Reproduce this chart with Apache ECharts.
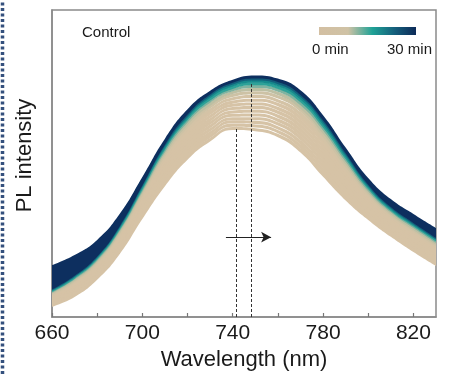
<!DOCTYPE html>
<html>
<head>
<meta charset="utf-8">
<script src="https://cdn.jsdelivr.net/npm/echarts@6/dist/echarts.min.js"></script>
<style>
html,body{margin:0;padding:0;background:#fff;}
#chart{width:449px;height:376px;}
</style>
</head>
<body>
<div id="chart"></div>
<script>
// ---- data ----
const wavelengths = [660,670,680,690,700,710,720,730,740,750,760,770,780,790,800,810,820,830];
// PL spectra centre lines (arbitrary units), 0 min (lowest) -> 30 min (highest)
const c00 = [7.3, 9.9, 14.8, 22.5, 33.3, 43.6, 52.1, 57.8, 61.4, 61.0, 59.1, 54.3, 46.5, 38.9, 32.7, 27.4, 22.6, 18.2];
const c01 = [7.7, 10.4, 15.3, 23.1, 34.1, 44.5, 53.1, 58.9, 62.5, 62.2, 60.4, 55.6, 47.8, 40.0, 33.5, 28.1, 23.3, 18.8];
const c02 = [8.1, 10.9, 15.9, 23.8, 34.8, 45.5, 54.2, 59.9, 63.6, 63.4, 61.6, 56.9, 49.1, 41.1, 34.3, 28.8, 23.9, 19.5];
const c03 = [8.5, 11.4, 16.4, 24.4, 35.6, 46.4, 55.2, 61.0, 64.6, 64.6, 62.9, 58.3, 50.4, 42.1, 35.1, 29.4, 24.6, 20.1];
const c04 = [8.9, 11.8, 16.9, 25.1, 36.4, 47.4, 56.2, 62.1, 65.7, 65.8, 64.1, 59.6, 51.7, 43.2, 35.9, 30.1, 25.3, 20.8];
const c05 = [9.3, 12.3, 17.5, 25.7, 37.1, 48.3, 57.3, 63.2, 66.8, 67.0, 65.4, 60.9, 52.9, 44.3, 36.7, 30.8, 25.9, 21.4];
const c06 = [9.7, 12.8, 18.0, 26.3, 37.9, 49.3, 58.3, 64.2, 67.9, 68.2, 66.7, 62.2, 54.2, 45.4, 37.5, 31.5, 26.6, 22.1];
const c07 = [10.0, 13.3, 18.5, 27.0, 38.6, 50.2, 59.3, 65.3, 69.0, 69.4, 67.9, 63.5, 55.5, 46.5, 38.3, 32.2, 27.3, 22.7];
const c08 = [10.4, 13.8, 19.1, 27.6, 39.4, 51.2, 60.3, 66.4, 70.0, 70.6, 69.2, 64.8, 56.8, 47.5, 39.1, 32.8, 27.9, 23.4];
const c09 = [10.8, 14.3, 19.6, 28.2, 40.2, 52.1, 61.4, 67.4, 71.1, 71.8, 70.4, 66.1, 58.1, 48.6, 40.0, 33.5, 28.6, 24.0];
const c10 = [11.2, 14.7, 20.1, 28.9, 40.9, 53.1, 62.4, 68.5, 72.2, 73.0, 71.7, 67.5, 59.4, 49.7, 40.8, 34.2, 29.3, 24.6];
const c11 = [11.6, 15.1, 20.6, 29.4, 41.6, 53.9, 63.3, 69.4, 73.1, 74.1, 72.8, 68.6, 60.5, 50.6, 41.4, 34.8, 29.8, 25.2];
const c12 = [11.9, 15.6, 21.0, 30.0, 42.2, 54.7, 64.2, 70.4, 74.0, 75.1, 73.9, 69.7, 61.6, 51.5, 42.1, 35.4, 30.4, 25.7];
const c13 = [12.2, 15.9, 21.4, 30.4, 42.8, 55.4, 64.9, 71.1, 74.8, 76.0, 74.8, 70.7, 62.5, 52.3, 42.7, 35.8, 30.9, 26.2];
const c14 = [12.5, 16.3, 21.8, 30.9, 43.3, 56.0, 65.6, 71.9, 75.6, 76.8, 75.7, 71.6, 63.4, 53.1, 43.3, 36.3, 31.3, 26.7];
const c15 = [12.7, 16.5, 22.1, 31.2, 43.8, 56.6, 66.2, 72.5, 76.2, 77.5, 76.4, 72.4, 64.2, 53.7, 43.7, 36.7, 31.7, 27.0];
const c16 = [12.9, 16.8, 22.4, 31.6, 44.2, 57.1, 66.8, 73.1, 76.8, 78.2, 77.1, 73.1, 64.9, 54.3, 44.2, 37.1, 32.1, 27.4];
const curves = [c00,c01,c02,c03,c04,c05,c06,c07,c08,c09,c10,c11,c12,c13,c14,c15,c16];
// half-width of the noisy trace around each centre line (same units)
const noiseHalfWidth = [4.0, 3.4, 2.7, 2.0, 1.4, 1.0, 0.85, 0.6, 0.5, 0.5, 0.55, 0.75, 0.85, 0.95, 1.1, 1.3, 1.45, 1.6];

// peak positions (nm) and the peak heights they are drawn up to
const peakLines = [[741.5, 61.9], [748.3, 76.2]];
// shift arrow (nm, intensity)
const arrowFrom = [737, 26];
const arrowTo = [757, 26];

const xTickLabels = [660, 700, 740, 780, 820];
const xTicks = [660, 680, 700, 720, 740, 760, 780, 800, 820];
const legendLabels = ['0 min', '30 min'];
const panelLabel = 'Control';

// ---- styles ----
const curveColors = ['#d6c3a6','#d6c3a6','#d6c3a6','#d6c3a6','#d6c3a6','#d6c3a6','#d6c3a6','#d6c3a6',
  '#d6c3a6','#d4c3a6','#cdc2a5','#bcbfa3','#7fb3a0','#2ea298','#178a8c','#135f7b','#0d2f5f'];

const chart = echarts.init(document.getElementById('chart'), null, {renderer:'canvas'});

const SMOOTH = 0.5;
const series = [];
curves.forEach((c, i) => {
  series.push({
    type: 'line', stack: 'band' + i, silent: true, smooth: SMOOTH, symbol: 'none', showSymbol: false,
    xAxisIndex: 0,
    data: c.map((v, j) => v - noiseHalfWidth[j]),
    lineStyle: { width: 0.5, opacity: 0 }
  });
  series.push({
    type: 'line', stack: 'band' + i, silent: true, smooth: SMOOTH, symbol: 'none', showSymbol: false,
    xAxisIndex: 0,
    data: noiseHalfWidth.map(h => 2 * h),
    lineStyle: { width: 0.5, opacity: 0 },
    areaStyle: { color: curveColors[i], opacity: 1 }
  });
});

series.push({
  type: 'line', data: [], silent: true, z: 5, xAxisIndex: 1,
  markLine: {
    silent: true, symbol: ['none', 'none'], label: { show: false },
    lineStyle: { color: '#333', width: 1, type: [3, 2] },
    data: peakLines.map(p => [{ coord: [p[0], 0] }, { coord: [p[0], p[1]] }])
  }
});
series.push({
  type: 'line', data: [], silent: true, z: 6, xAxisIndex: 1,
  markLine: {
    silent: true, symbol: ['none', 'arrow'], symbolSize: [8, 10], label: { show: false },
    lineStyle: { color: '#222', width: 1.2, type: 'solid' },
    data: [[{ coord: arrowFrom }, { coord: arrowTo }]]
  }
});

const labelSet = new Set(xTickLabels.map(String));
const tickSet = new Set(xTicks.map(String));

chart.setOption({
  animation: false,
  backgroundColor: '#fff',
  grid: { left: 52, right: 13, top: 10, bottom: 59, show: true, borderColor: '#8a8a8a', borderWidth: 1.5, backgroundColor: 'transparent' },
  xAxis: [{
    type: 'category', data: wavelengths.map(String), boundaryGap: false,
    name: 'Wavelength (nm)', nameLocation: 'middle', nameGap: 32,
    nameTextStyle: { fontFamily: 'Liberation Sans, Arial', fontSize: 22, color: '#1a1a1a' },
    axisLine: { show: true, onZero: false, lineStyle: { color: '#8a8a8a', width: 1.5 } },
    axisTick: { show: true, inside: true, length: 4, interval: (idx, val) => tickSet.has(val), lineStyle: { color: '#777', width: 1.2 } },
    axisLabel: { interval: (idx, val) => labelSet.has(val), margin: 6, fontFamily: 'Liberation Sans, Arial', fontSize: 21, color: '#1a1a1a' },
    splitLine: { show: false }
  }, {
    type: 'value', min: wavelengths[0], max: wavelengths[wavelengths.length - 1], show: false
  }],
  yAxis: {
    type: 'value', min: 0, max: 100,
    name: 'PL intensity', nameLocation: 'middle', nameGap: 16,
    nameTextStyle: { fontFamily: 'Liberation Sans, Arial', fontSize: 22, color: '#1a1a1a', padding: [0, 0, 0, 16] },
    axisLine: { show: true, lineStyle: { color: '#8a8a8a', width: 1.5 } },
    axisTick: { show: false },
    axisLabel: { show: false },
    splitLine: { show: false }
  },
  graphic: [
    { type: 'line', left: 0, top: 0, shape: { x1: 2, y1: 0, x2: 2, y2: 376 }, style: { stroke: '#34507d', lineWidth: 3.5, lineDash: [3, 2.5] } },
    { type: 'text', left: 82, top: 25, style: { text: panelLabel, font: '15px "Liberation Sans", Arial', fill: '#1a1a1a' } },
    { type: 'rect', left: 319, top: 27, shape: { width: 97, height: 8 },
      style: { fill: new echarts.graphic.LinearGradient(0, 0, 1, 0, [
        { offset: 0, color: '#d3bfa2' }, { offset: 0.3, color: '#cfc2a5' },
        { offset: 0.55, color: '#1fa296' }, { offset: 0.78, color: '#155f7c' }, { offset: 1, color: '#0c2a58' }]) } },
    { type: 'text', left: 312, top: 42, style: { text: legendLabels[0], font: '15px "Liberation Sans", Arial', fill: '#1a1a1a' } },
    { type: 'text', left: 387, top: 42, style: { text: legendLabels[1], font: '15px "Liberation Sans", Arial', fill: '#1a1a1a' } }
  ],
  series: series
});
</script>
</body>
</html>
